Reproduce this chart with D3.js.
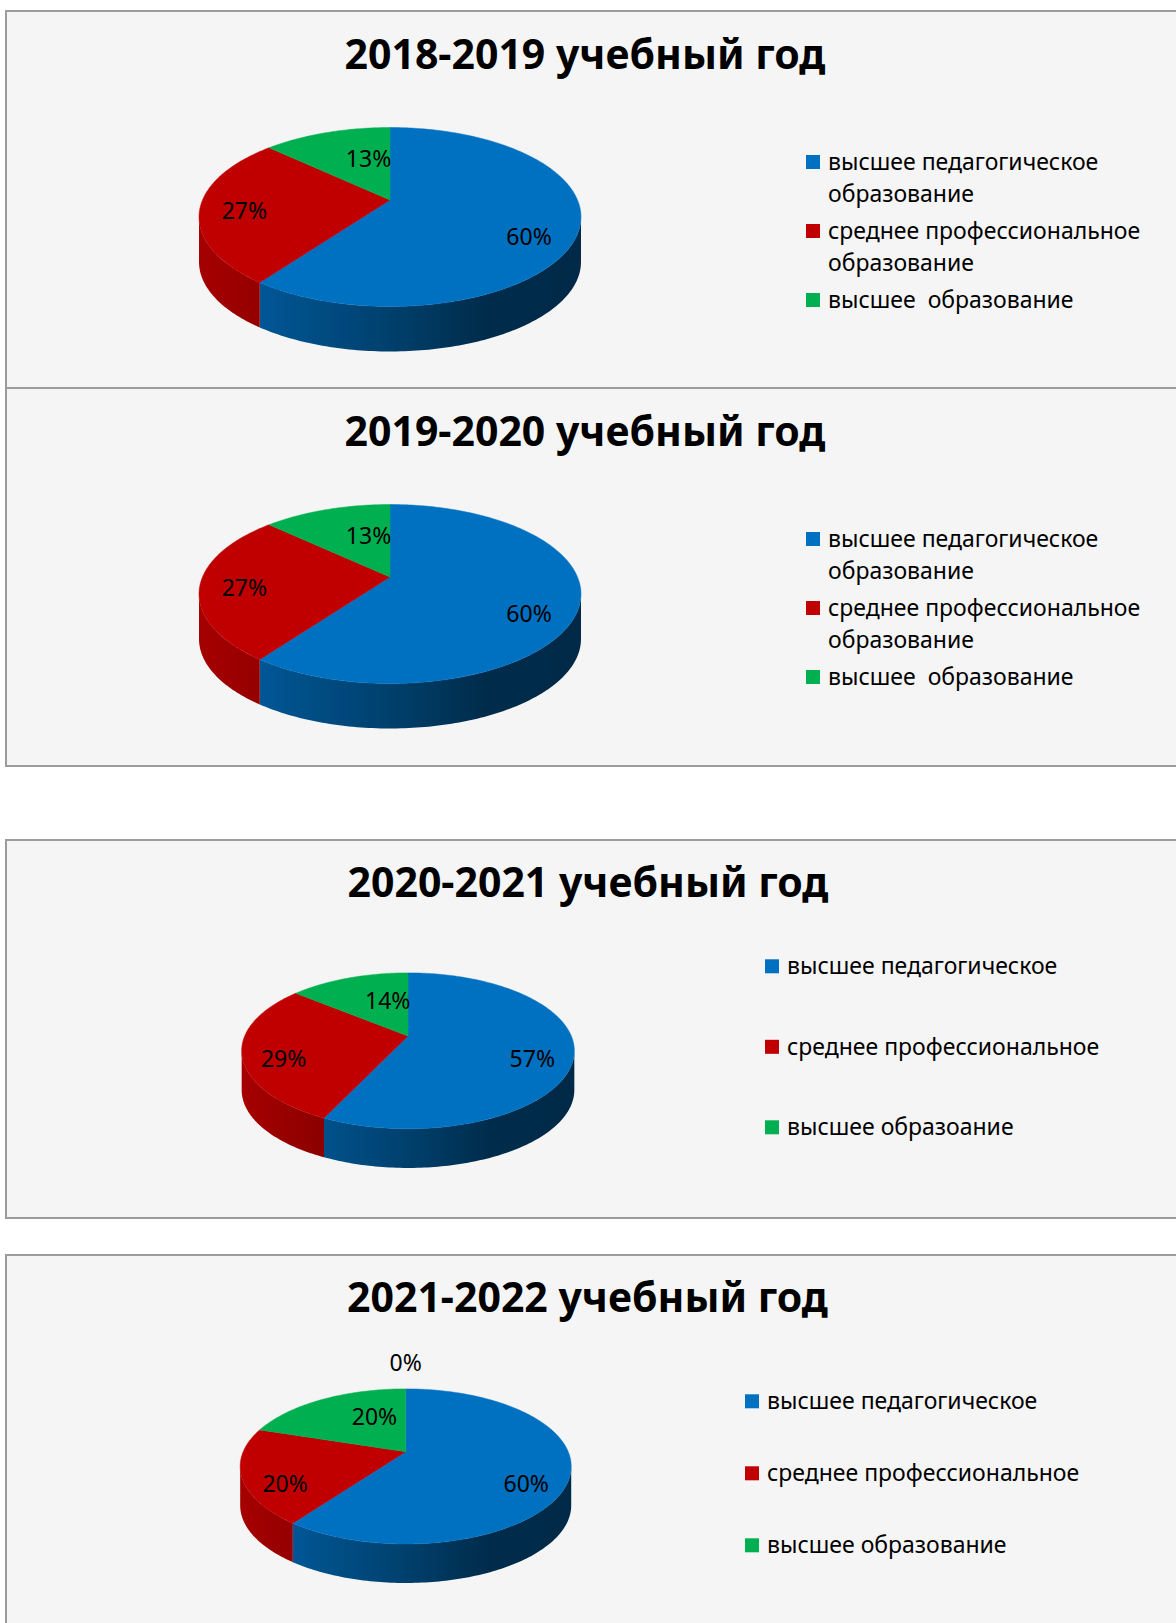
<!DOCTYPE html>
<meta charset="utf-8">
<style>
body { margin: 0; background: #fff; }
.panel { fill: #f5f5f5; stroke: #9c9c9c; stroke-width: 2px; }
.title { font: bold 41px "Noto Sans", "Open Sans", sans-serif; fill: #000; text-anchor: middle; }
.label { font: 23px "Noto Sans", "Open Sans", sans-serif; fill: #000; text-anchor: middle; }
.legend text { font: 23px "Noto Sans", "Open Sans", sans-serif; fill: #000; white-space: pre; }
</style>
<svg width="1176" height="1623"></svg>
<script src="https://d3js.org/d3.v7.min.js"></script>
<script>
// titles of the four charts
var titles = ["2018-2019 учебный год", "2019-2020 учебный год",
              "2020-2021 учебный год", "2021-2022 учебный год"];

// legend names (as written on each chart)
var categoriesA = ["высшее педагогическое образование",
                   "среднее профессиональное образование",
                   "высшее  образование"];
var categoriesB = ["высшее педагогическое", "среднее профессиональное", "высшее образоание"];
var categoriesC = ["высшее педагогическое", "среднее профессиональное", "высшее образование"];

// shares, %
var values1819 = [60, 27, 13];
var values1920 = [60, 27, 13];
var values2021 = [57, 29, 14];
var values2122 = [60, 20, 20, 0];

var colors = ["#0070C0", "#C00000", "#00B050", "#7F7F7F"];

// 3d look
var K = -0.19,     // perspective
    TILT = 0.46,   // flattening of the disc
    DEPTH = 0.24;  // thickness relative to radius

var panels = [
  {title: titles[0], cats: categoriesA, values: values1819, top: 11,   h: 377, tx: 585,   ty: 69,   cx: 390,   cy: 200,    a: 187.5, lx: 806, ly: 170,    gap: 5},
  {title: titles[1], cats: categoriesA, values: values1920, top: 388,  h: 378, tx: 585,   ty: 446,  cx: 390,   cy: 577,    a: 187.5, lx: 806, ly: 547,    gap: 5},
  {title: titles[2], cats: categoriesB, values: values2021, top: 840,  h: 378, tx: 588,   ty: 897,  cx: 408,   cy: 1036,   a: 163.3, lx: 765, ly: 974.3,  gap: 48.5},
  {title: titles[3], cats: categoriesC, values: values2122, top: 1255, h: 378, tx: 587.5, ty: 1312, cx: 405.7, cy: 1451.7, a: 162.5, lx: 745, ly: 1409.3, gap: 40}
];

var svg = d3.select("svg");
var defs = svg.append("defs");

var color = d3.scaleOrdinal().domain(d3.range(colors.length)).range(colors);
var pct = d3.format(".0%");
var pie = d3.pie().sort(null).value(function(d) { return d; });
var line = d3.line();

var shadeStops = [[0, 0.86], [0.15, 0.78], [0.5, 0.57], [0.75, 0.39], [1, 0.37]];

function shade(c, f) {
  var r = d3.rgb(c);
  return d3.rgb(r.r * f, r.g * f, r.b * f).formatHex();
}

// angle is clockwise from 12 o'clock, r is fraction of radius
function proj(p, ang, r) {
  var u = r * Math.sin(ang), v = -r * Math.cos(ang), w = 1 + K * v;
  return [p.cx + p.a * u / w, p.cy + p.a * TILT * v / w];
}

function arcPoints(p, a0, a1, r, dy) {
  var n = Math.max(2, Math.ceil((a1 - a0) / (Math.PI / 180)));
  return d3.range(n + 1).map(function(i) {
    var pt = proj(p, a0 + (a1 - a0) * i / n, r);
    return [pt[0], pt[1] + dy];
  });
}

function wrap(text, str, maxW, lh) {
  var words = str.split(" "), cur = [], n = 0;
  var tspan = text.append("tspan").attr("x", 0).attr("y", 0);
  words.forEach(function(w) {
    cur.push(w);
    tspan.text(cur.join(" "));
    if (tspan.node().getComputedTextLength() > maxW && cur.length > 1) {
      cur.pop();
      tspan.text(cur.join(" "));
      cur = [w];
      n++;
      tspan = text.append("tspan").attr("x", 0).attr("y", n * lh).text(w);
    }
  });
  return n + 1;
}

var silL = Math.acos(K), silR = 2 * Math.PI - Math.acos(K);

panels.forEach(function(p, pi) {
  var g = svg.append("g");

  g.append("rect").attr("class", "panel")
    .attr("x", 6).attr("y", p.top)
    .attr("width", 1200).attr("height", p.h);

  g.append("text").attr("class", "title")
    .attr("x", p.tx).attr("y", p.ty)
    .text(p.title);

  var arcs = pie(p.values);
  var depth = p.a * DEPTH;
  var halfW = p.a / Math.sqrt(1 - K * K);
  var topY = proj(p, 0, 1)[1];

  // side gradients
  colors.forEach(function(c, ci) {
    var grad = defs.append("linearGradient")
      .attr("id", "side" + pi + "_" + ci)
      .attr("gradientUnits", "userSpaceOnUse")
      .attr("x1", p.cx - halfW).attr("x2", p.cx + halfW)
      .attr("y1", 0).attr("y2", 0);
    grad.selectAll("stop").data(shadeStops).enter().append("stop")
      .attr("offset", function(d) { return d[0]; })
      .attr("stop-color", function(d) { return shade(c, d[1]); });
  });

  // outer walls
  g.selectAll(".wall").data(arcs.filter(function(d) {
      return d.endAngle > silL && d.startAngle < silR && d.value > 0;
    }))
    .enter().append("path")
    .attr("class", "wall")
    .attr("fill", function(d) { return "url(#side" + pi + "_" + d.index + ")"; })
    .attr("d", function(d) {
      var lo = Math.max(d.startAngle, silL), hi = Math.min(d.endAngle, silR);
      var pts = arcPoints(p, lo, hi, 1, 0)
        .concat(arcPoints(p, lo, hi, 1, depth).reverse());
      return line(pts) + "Z";
    });

  // top faces
  g.selectAll(".face").data(arcs.filter(function(d) { return d.value > 0; }))
    .enter().append("path")
    .attr("class", "face")
    .attr("fill", function(d) { return color(d.index); })
    .attr("stroke", function(d) { return color(d.index); })
    .attr("stroke-width", 0.5)
    .attr("d", function(d) {
      var pts = [[p.cx, p.cy]].concat(arcPoints(p, d.startAngle, d.endAngle, 1, 0));
      return line(pts) + "Z";
    });

  // data labels
  var total = d3.sum(p.values);
  g.selectAll(".label").data(arcs)
    .enter().append("text")
    .attr("class", "label")
    .attr("dy", "0.35em")
    .attr("x", function(d) { return labelPos(d)[0]; })
    .attr("y", function(d) { return labelPos(d)[1]; })
    .text(function(d) { return pct(d.value / total); });

  function labelPos(d) {
    var mid = (d.startAngle + d.endAngle) / 2;
    var sx = Math.sin(mid), sy = -Math.cos(mid);
    if (d.value === 0) {
      var rim = proj(p, mid, 1);
      return [rim[0] + 0.16 * p.a * sx, rim[1] + 0.16 * p.a * sy];
    }
    var dx = 0.78 * p.a * sx, dy = 0.64 * p.a * sy;
    // keep the label clear of the far rim: slide it back toward the centre
    var minY = topY + 0.17 * p.a;
    var t = 1;
    if (p.cy + dy < minY) t = (p.cy - minY) / -dy;
    return [p.cx + t * dx, p.cy + t * dy];
  }

  // legend
  var lg = g.append("g").attr("class", "legend")
    .attr("transform", "translate(" + p.lx + "," + p.ly + ")");
  var y = 0;
  p.cats.forEach(function(name, i) {
    var item = lg.append("g").attr("transform", "translate(0," + y + ")");
    item.append("rect")
      .attr("x", 0).attr("y", -15)
      .attr("width", 14).attr("height", 14)
      .attr("fill", color(i));
    var t = item.append("text").attr("transform", "translate(22,0)");
    var n = wrap(t, name, 345, 32);
    y += n * 32 + p.gap;
  });
});
</script>
